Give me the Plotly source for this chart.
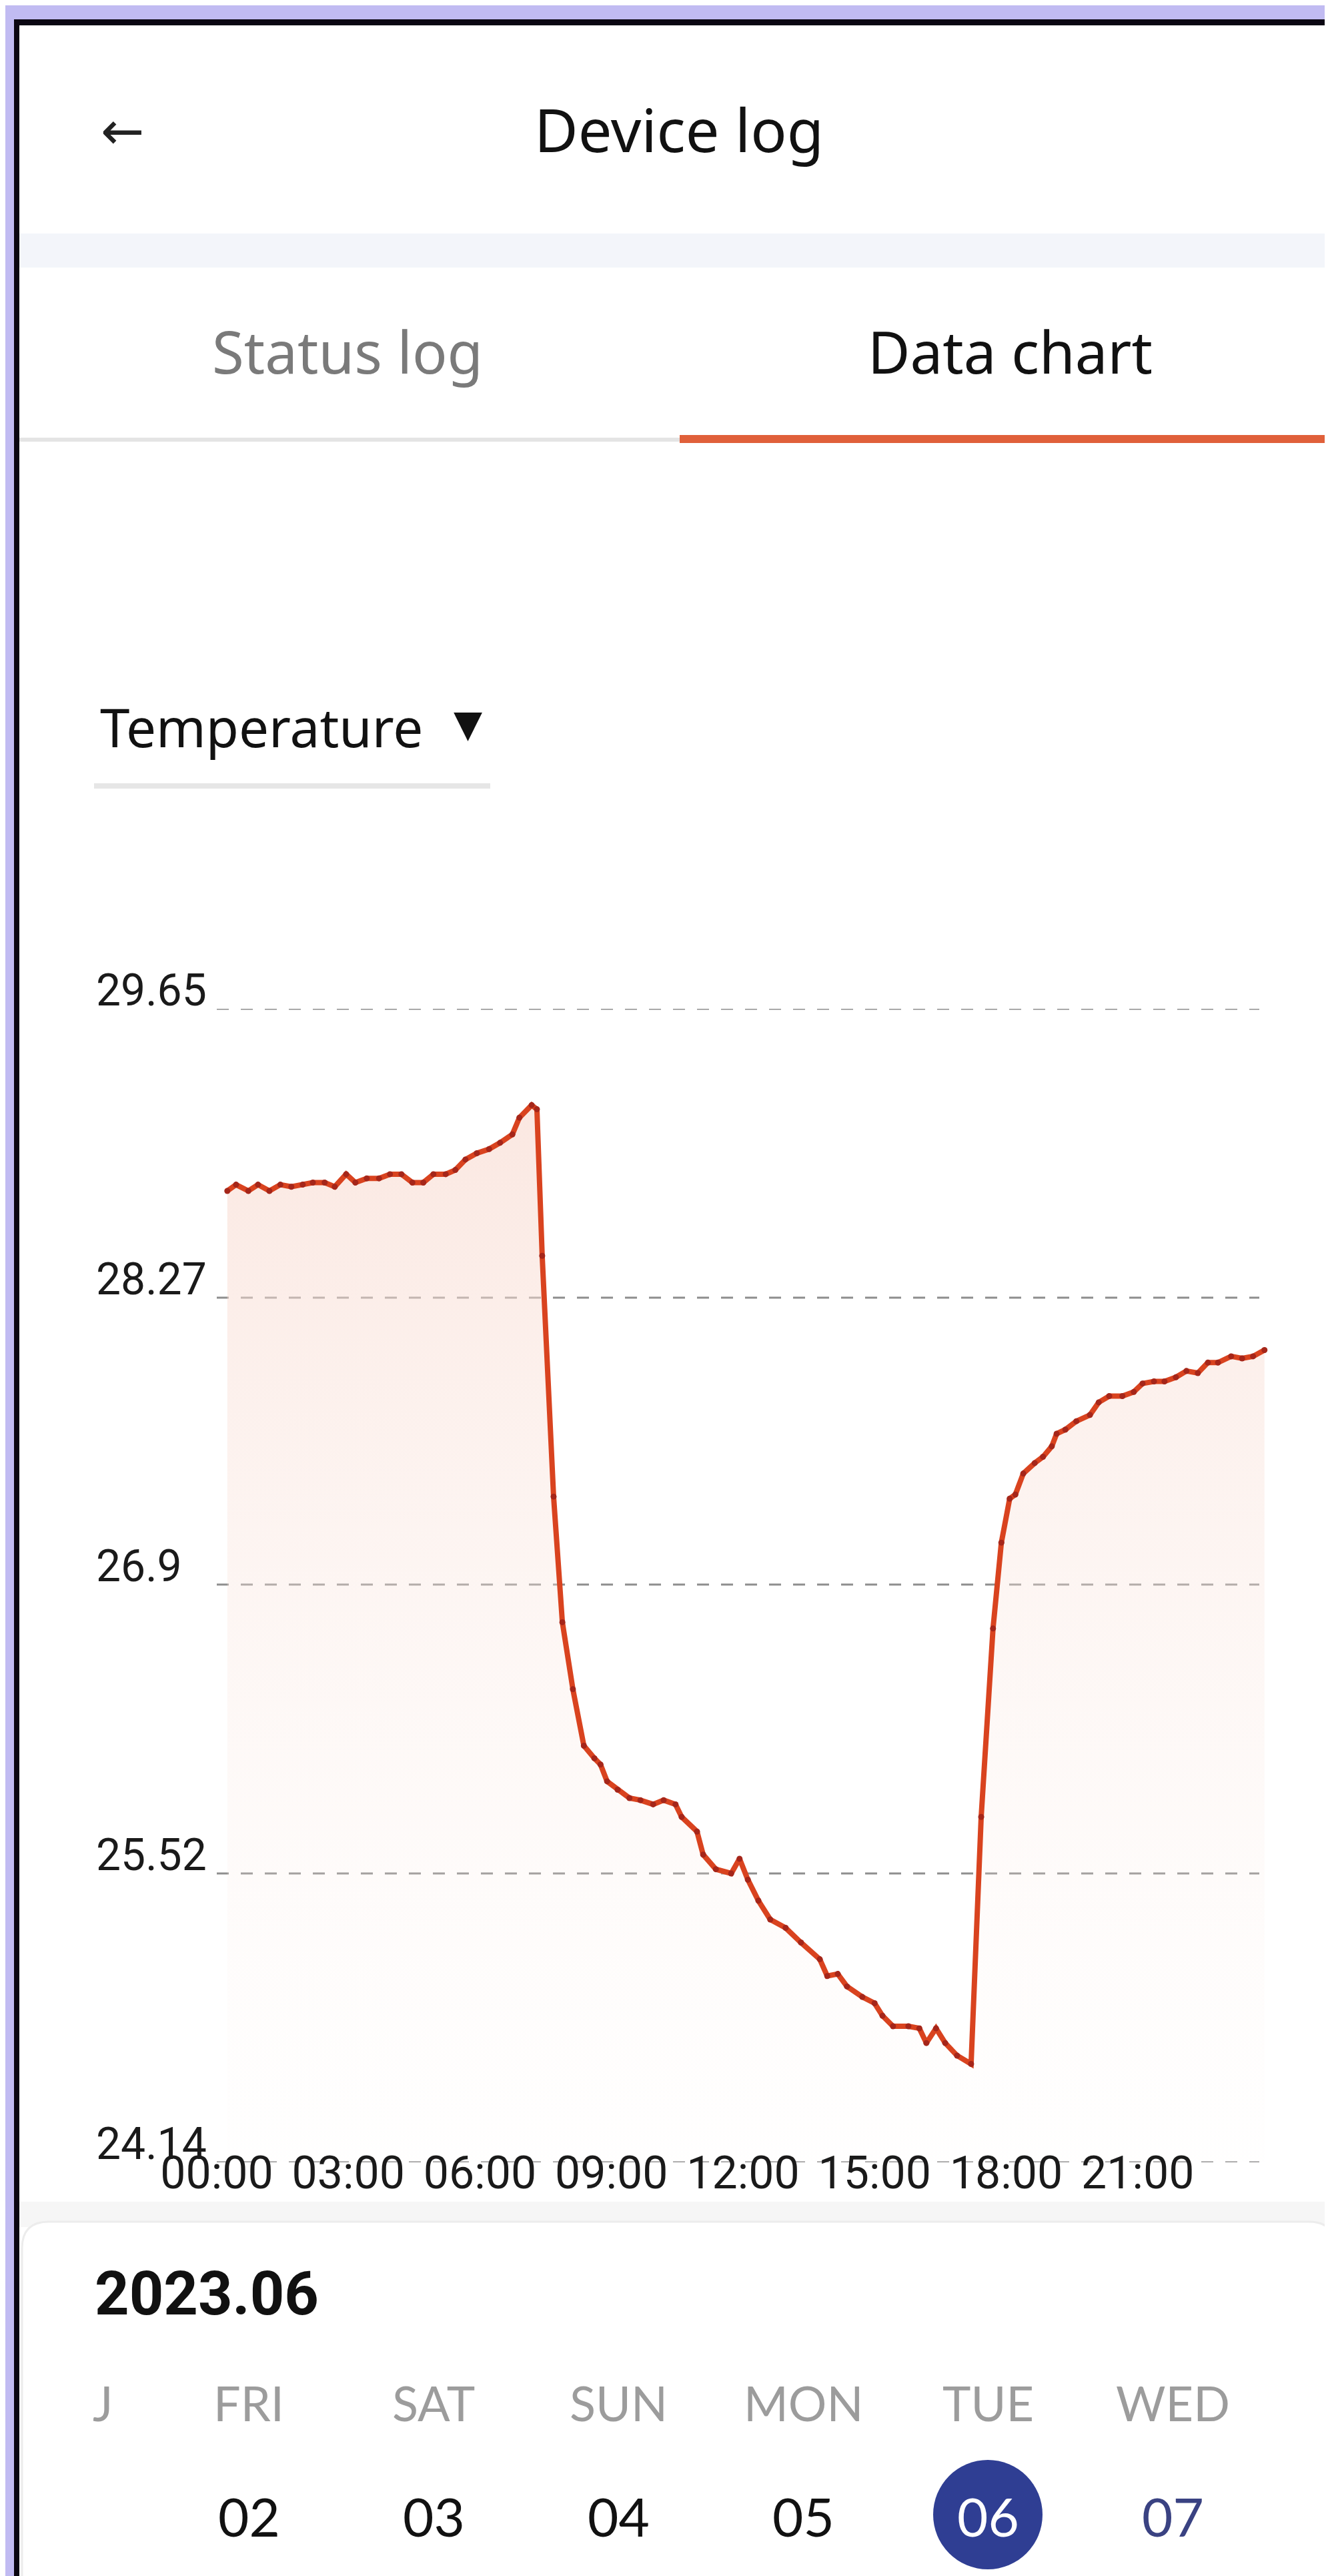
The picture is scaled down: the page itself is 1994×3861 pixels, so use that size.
import plotly.graph_objects as go

W, H = 1994, 3861


def X(px):
    return px / W


def Y(py):
    return 1 - py / H


# ---------------- data ----------------
hours = [0.24, 0.44, 0.72, 0.94, 1.20, 1.45, 1.70, 1.96, 2.19, 2.46, 2.69, 2.95, 3.16, 3.42,
         3.70, 3.95, 4.21, 4.46, 4.71, 4.94, 5.22, 5.44, 5.67, 5.93, 6.21, 6.46, 6.74, 6.90,
         7.18, 7.30, 7.42, 7.68, 7.88, 8.12, 8.37, 8.61, 8.75, 8.90, 9.14, 9.41, 9.66, 9.95,
         10.19, 10.46, 10.60, 10.95, 11.09, 11.38, 11.73, 11.92, 12.11, 12.35, 12.62, 12.97,
         13.32, 13.75, 13.92, 14.16, 14.37, 14.72, 15.00, 15.18, 15.42, 15.77, 16.02, 16.18,
         16.40, 16.61, 16.88, 17.20, 17.43, 17.70, 17.89, 18.08, 18.21, 18.39, 18.65, 18.84,
         19.04, 19.15, 19.35, 19.60, 19.91, 20.11, 20.35, 20.65, 20.91, 21.11, 21.37, 21.61,
         21.87, 22.11, 22.37, 22.60, 22.83, 23.13, 23.38, 23.63, 23.89]
temps = [28.78, 28.81, 28.78, 28.81, 28.78, 28.81, 28.80, 28.81, 28.82, 28.82, 28.80, 28.86,
         28.82, 28.84, 28.84, 28.86, 28.86, 28.82, 28.82, 28.86, 28.86, 28.88, 28.93, 28.96,
         28.98, 29.01, 29.05, 29.13, 29.19, 29.17, 28.47, 27.32, 26.72, 26.40, 26.13, 26.07,
         26.04, 25.96, 25.92, 25.88, 25.87, 25.85, 25.87, 25.85, 25.79, 25.72, 25.61, 25.54,
         25.52, 25.59, 25.49, 25.39, 25.30, 25.26, 25.19, 25.11, 25.03, 25.04, 24.98, 24.93,
         24.90, 24.84, 24.79, 24.79, 24.78, 24.71, 24.78, 24.71, 24.65, 24.61, 25.79, 26.69,
         27.10, 27.31, 27.33, 27.43, 27.48, 27.51, 27.56, 27.62, 27.64, 27.68, 27.71, 27.77,
         27.80, 27.80, 27.82, 27.86, 27.87, 27.87, 27.89, 27.92, 27.91, 27.96, 27.96, 27.99,
         27.98, 27.99, 28.02]

y_ticks = [24.14, 25.52, 26.9, 28.27, 29.65]
y_tick_labels = ["24.14", "25.52", "26.9", "28.27", "29.65"]
x_ticks = [0, 3, 6, 9, 12, 15, 18, 21]
x_tick_labels = ["00:00", "03:00", "06:00", "09:00", "12:00", "15:00", "18:00", "21:00"]

page_title = "Device log"
tabs = ["Status log", "Data chart"]
metric_label = "Temperature"
month_label = "2023.06"
weekdays = ["J", "FRI", "SAT", "SUN", "MON", "TUE", "WED"]
dates = ["", "02", "03", "04", "05", "06", "07"]
selected_date = "06"

# ---------------- figure ----------------
fig = go.Figure()

# baseline for the area fill (axis minimum)
fig.add_trace(go.Scatter(
    x=hours, y=[y_ticks[0]] * len(hours), mode="lines",
    line=dict(width=0, color="rgba(0,0,0,0)"), hoverinfo="skip", showlegend=False))

fig.add_trace(go.Scatter(
    x=hours, y=temps, mode="lines+markers", fill="tonexty",
    fillgradient=dict(type="vertical", start=y_ticks[0], stop=max(temps),
                      colorscale=[[0, "rgba(252,242,238,0.05)"],
                                  [1, "rgba(248,216,205,0.6)"]]),
    line=dict(color="#D9431F", width=8),
    marker=dict(size=9, color="#A5261A"),
    showlegend=False, hoverinfo="x+y"))

shapes = []
# purple frame + black edge
shapes.append(dict(type="rect", xref="paper", yref="paper", x0=0, x1=1, y0=Y(0), y1=Y(21),
                   fillcolor="#C1BBF2", line=dict(width=0), layer="below"))
shapes.append(dict(type="rect", xref="paper", yref="paper", x0=0, x1=X(13), y0=Y(0), y1=Y(H),
                   fillcolor="#C1BBF2", line=dict(width=0), layer="below"))
shapes.append(dict(type="rect", xref="paper", yref="paper", x0=X(13), x1=1, y0=Y(21), y1=Y(30),
                   fillcolor="#0B0612", line=dict(width=0), layer="below"))
shapes.append(dict(type="rect", xref="paper", yref="paper", x0=X(13), x1=X(21), y0=Y(21), y1=Y(H),
                   fillcolor="#0B0612", line=dict(width=0), layer="below"))
# header separator band
shapes.append(dict(type="rect", xref="paper", yref="paper", x0=X(21), x1=1, y0=Y(342), y1=Y(393),
                   fillcolor="#F3F5FA", line=dict(width=0), layer="below"))
# tab underlines
shapes.append(dict(type="rect", xref="paper", yref="paper", x0=X(21), x1=X(1011), y0=Y(648), y1=Y(654),
                   fillcolor="#E4E4E4", line=dict(width=0), layer="below"))
shapes.append(dict(type="rect", xref="paper", yref="paper", x0=X(1011), x1=1, y0=Y(644), y1=Y(656),
                   fillcolor="#E0603A", line=dict(width=0), layer="below"))
# dropdown underline
shapes.append(dict(type="rect", xref="paper", yref="paper", x0=X(133), x1=X(727), y0=Y(1166), y1=Y(1174),
                   fillcolor="#E6E6E6", line=dict(width=0), layer="below"))
# dashed grid lines
for v in y_ticks:
    shapes.append(dict(type="line", xref="paper", yref="y", x0=X(317), x1=X(1880), y0=v, y1=v,
                       line=dict(color="#8E8E8E", width=3, dash="18px,18px"), layer="below"))
# calendar card shadow + card
shapes.append(dict(type="rect", xref="paper", yref="paper", x0=X(21), x1=1, y0=Y(3292), y1=Y(3330),
                   fillcolor="#F6F6F6", line=dict(width=0), layer="below"))
cx0, cx1, cy0, r = 25, 1994, 3322, 40
path = (f"M {X(cx0)},{Y(H)} L {X(cx0)},{Y(cy0 + r)} Q {X(cx0)},{Y(cy0)} {X(cx0 + r)},{Y(cy0)} "
        f"L {X(cx1 - r)},{Y(cy0)} Q {X(cx1)},{Y(cy0)} {X(cx1)},{Y(cy0 + r)} L {X(cx1)},{Y(H)} Z")
shapes.append(dict(type="path", xref="paper", yref="paper", path=path,
                   fillcolor="#FFFFFF", line=dict(color="#ECECEC", width=3), layer="below"))
# selected date circle
sel_idx = dates.index(selected_date)
col_x = [146] + [365 + 277 * (i - 1) for i in range(1, len(weekdays))]
ccx, ccy, cr = col_x[sel_idx], 3761, 82
shapes.append(dict(type="circle", xref="paper", yref="paper",
                   x0=X(ccx - cr), x1=X(ccx + cr), y0=Y(ccy + cr), y1=Y(ccy - cr),
                   fillcolor="#2F3E93", line=dict(width=0), layer="below"))

ann = []


def txt(text, x, y, size, color="#111111", family="Noto Sans", xanchor="center", weight=None):
    f = dict(size=size, color=color, family=family)
    if weight:
        f["weight"] = weight
    ann.append(dict(text=text, x=X(x), y=Y(y), xref="paper", yref="paper", xanchor=xanchor,
                    yanchor="middle", showarrow=False, font=f))


txt("←", 175, 188, 78, "#222222", "DejaVu Sans")
txt(page_title, 1010, 185, 90)
txt(tabs[0], 513, 518, 87, "#7A7A7A")
txt(tabs[1], 1506, 518, 87, "#111111")
txt(metric_label, 140, 1080, 80, "#111111", xanchor="left")
txt("▼", 693, 1076, 56, "#111111", "DejaVu Sans")

# y tick labels (left aligned, sitting on their grid line)
for v, lab in zip(y_ticks, y_tick_labels):
    ann.append(dict(text=lab, x=X(134), xref="paper", y=v, yref="y", xanchor="left",
                    yanchor="bottom", yshift=-13, showarrow=False,
                    font=dict(size=66, color="#1A1A1A", family="Roboto")))

# calendar
txt(month_label, 132, 3430, 90, "#111111", "Roboto", xanchor="left", weight="bold")
for i, (d, n) in enumerate(zip(weekdays, dates)):
    txt(d, col_x[i], 3593, 72, "#9C9C9C", "Lato")
    if n:
        if n == selected_date:
            c = "#FFFFFF"
        elif i > sel_idx:
            c = "#3A4282"
        else:
            c = "#111111"
        txt(n, col_x[i], 3763, 80, c, "Lato")

fig.update_layout(
    template="none",
    width=W, height=H, margin=dict(l=0, r=0, t=0, b=0, pad=0, autoexpand=False),
    paper_bgcolor="#FFFFFF", plot_bgcolor="rgba(0,0,0,0)",
    showlegend=False, shapes=shapes, annotations=ann,
    xaxis=dict(domain=[X(317), X(1895)], range=[0, 24], tickvals=x_ticks, ticktext=x_tick_labels,
               tickfont=dict(size=68, color="#1A1A1A", family="Roboto"),
               showgrid=False, zeroline=False, showline=False, ticks="", ticklabelstandoff=-30,
               automargin=False, fixedrange=True),
    yaxis=dict(domain=[Y(3233), Y(1504)], range=[y_ticks[0], y_ticks[-1]],
               showticklabels=False, showgrid=False, zeroline=False, showline=False,
               automargin=False, fixedrange=True),
)

fig.write_html("out.html")
